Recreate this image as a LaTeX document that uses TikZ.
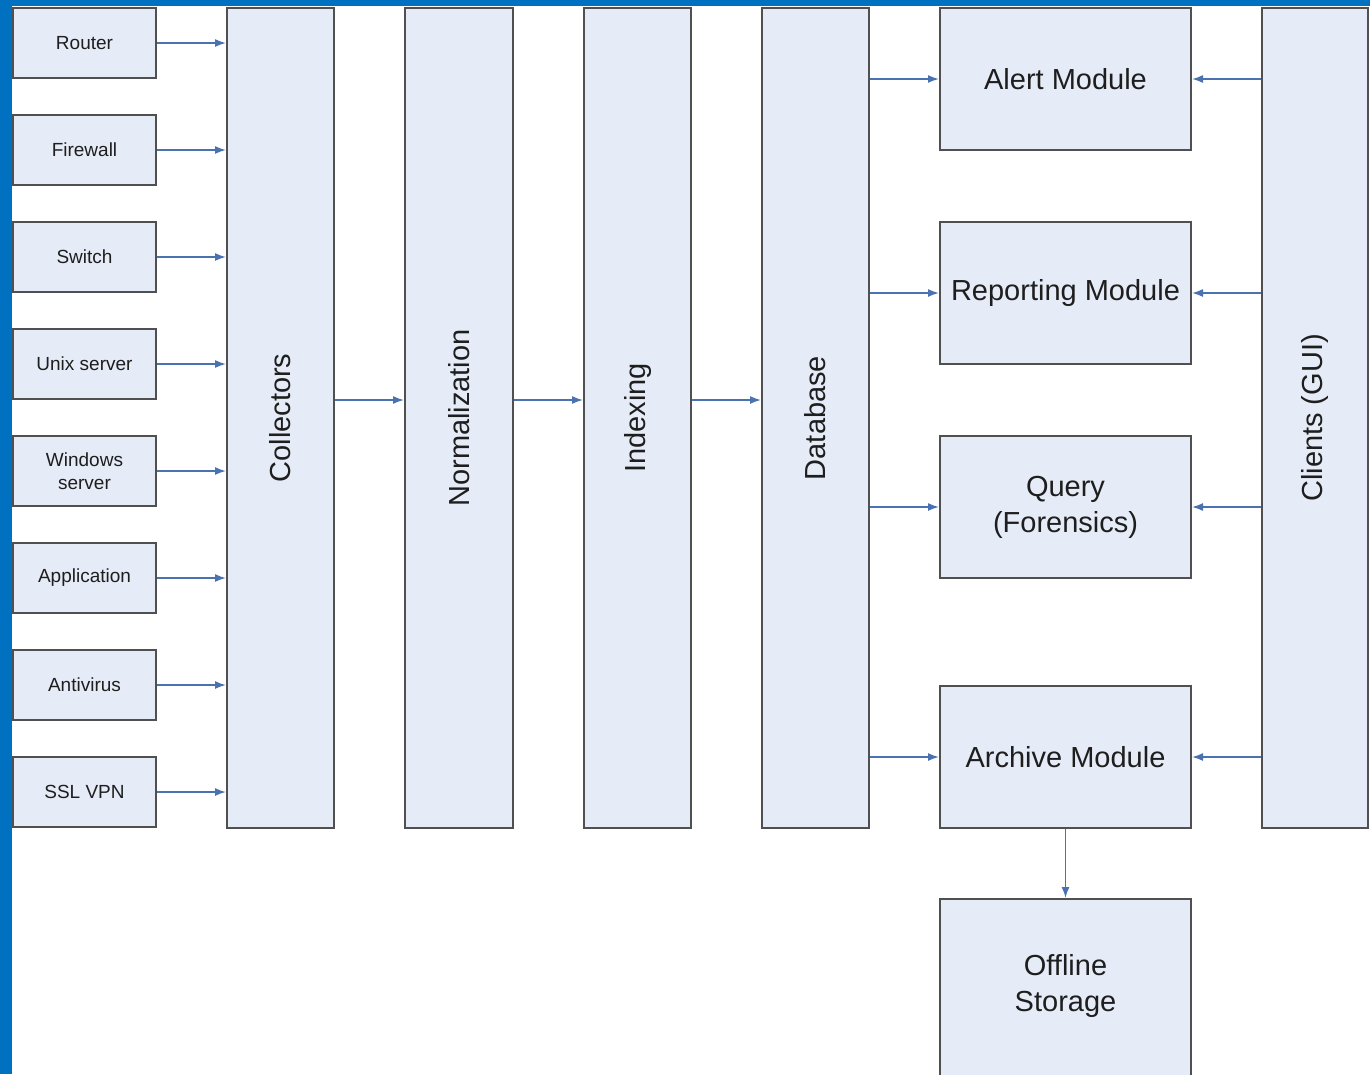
\documentclass[tikz,border=0pt]{standalone}
\usepackage{fontspec}
\setmainfont{Liberation Sans}
\usetikzlibrary{arrows.meta}
\definecolor{boxfill}{HTML}{E6ECF7}
\definecolor{boxline}{HTML}{505050}
\definecolor{arrowc}{HTML}{4A72B0}
\definecolor{bandc}{HTML}{0070C0}
\definecolor{txt}{HTML}{1E1E1E}
\begin{document}
\begin{tikzpicture}[x=1pt,y=-1pt,
  box/.style={draw=boxline,fill=boxfill,line width=2pt,inner sep=0pt,text=txt,align=center},
  conn/.style={draw=arrowc,line width=1.6pt,-{Latex[length=11pt,width=8pt]}},
  small/.style={font=\fontsize{19}{23}\selectfont},
  big/.style={font=\fontsize{29}{36}\selectfont}]
\useasboundingbox (0,0) rectangle (1370,1074);
\begin{scope}
\clip (0,0) rectangle (1370,1074);
\fill[white] (0,0) rectangle (1370,1074);
\fill[bandc] (0,0) rectangle (1370,6);
\fill[bandc] (0,0) rectangle (12,1074);
% source boxes
\foreach \n/\t [count=\i from 0] in {router/Router,firewall/Firewall,switch/Switch,unix/Unix server,windows/{Windows\\server},app/Application,av/Antivirus,ssl/SSL VPN}{
  \node[box,small,minimum width=143pt,minimum height=70pt] (\n) at (84.5,{43+107*\i}) {\t};
}
% columns
\node[box,big,minimum width=107pt,minimum height=820pt] (coll) at (280.5,418) {};
\node[rotate=90,big,text=txt] at (coll.center) {Collectors};
\node[box,big,minimum width=108pt,minimum height=820pt] (norm) at (459,418) {};
\node[rotate=90,big,text=txt] at (norm.center) {Normalization};
\node[box,big,minimum width=107pt,minimum height=820pt] (idx) at (637.5,418) {};
\node[rotate=90,big,text=txt] at (idx.center) {Indexing};
\node[box,big,minimum width=107pt,minimum height=820pt] (db) at (815.5,418) {};
\node[rotate=90,big,text=txt] at (db.center) {Database};
\node[box,big,minimum width=106pt,minimum height=820pt] (cli) at (1315,418) {};
\node[rotate=90,big,text=txt] at (cli.center) {Clients (GUI)};
% modules
\node[box,big,minimum width=251pt,minimum height=142pt] (alert) at (1065.5,79) {Alert Module};
\node[box,big,minimum width=251pt,minimum height=142pt] (rep) at (1065.5,293) {Reporting Module};
\node[box,big,minimum width=251pt,minimum height=142pt] (query) at (1065.5,507) {Query\\(Forensics)};
\node[box,big,minimum width=251pt,minimum height=142pt] (arch) at (1065.5,757) {Archive Module};
\node[box,big,minimum width=251pt,minimum height=200pt] (off) at (1065.5,999) {};
\node[big,text=txt,align=center] at (1065.5,986) {Offline\\Storage};
% connectors
\foreach \n in {router,firewall,switch,unix,windows,app,av,ssl}{
  \draw[conn] (\n.east) -- (\n.east -| coll.west);
}
\draw[conn] (coll.east |- 0,400) -- (norm.west |- 0,400);
\draw[conn] (norm.east |- 0,400) -- (idx.west |- 0,400);
\draw[conn] (idx.east |- 0,400) -- (db.west |- 0,400);
\foreach \m in {alert,rep,query,arch}{
  \draw[conn] (\m.west -| db.east) -- (\m.west);
  \draw[conn] (\m.east -| cli.west) -- (\m.east);
}
\draw[conn] (arch.south) -- (off.north);
\end{scope}
\end{tikzpicture}
\end{document}
